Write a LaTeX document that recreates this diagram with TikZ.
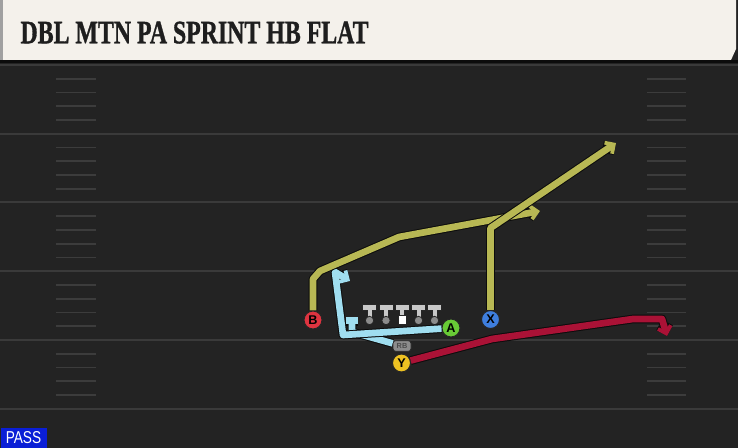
\documentclass[tikz,border=0pt]{standalone}
\usepackage{fontspec}
\setsansfont{Liberation Sans}
\newfontfamily\titlefont{Liberation Serif}[FakeBold=1.2]
\usetikzlibrary{arrows.meta}

\definecolor{fieldbg}{RGB}{35,35,35}
\definecolor{yardgray}{RGB}{58,58,58}
\definecolor{hashgray}{RGB}{60,60,60}
\definecolor{headcream}{RGB}{244,241,235}
\definecolor{headedge}{RGB}{160,160,160}
\definecolor{titleink}{RGB}{30,30,30}
\definecolor{routeolive}{RGB}{184,184,84}
\definecolor{routered}{RGB}{170,18,54}
\definecolor{routecyan}{RGB}{160,222,240}
\definecolor{routeedge}{RGB}{12,12,12}
\definecolor{passblue}{RGB}{10,30,214}
\definecolor{plred}{RGB}{222,52,64}
\definecolor{plblue}{RGB}{62,126,222}
\definecolor{plgreen}{RGB}{104,202,54}
\definecolor{plyellow}{RGB}{238,194,34}
\definecolor{linegray}{RGB}{200,200,200}
\definecolor{jointgray}{RGB}{140,140,140}

\tikzset{every picture/.style={line width=0.75pt}}
\tikzset{
  yard/.style={draw=yardgray, line width=1.5pt},
  hashmark/.style={draw=hashgray, line width=1.2pt},
  routeline/.style={line join=round},
  routetip/.style={-{Straight Barb[length=5pt,width=10pt,line width=#1]}},
  blocktip/.style={-{Bar[width=9pt]}},
  player/.style={circle, draw=black!85, line width=0.75pt, inner sep=0pt, minimum size=13.5pt,
    font=\sffamily\bfseries\fontsize{9.5}{9.5}\selectfont, text=black},
  lineman/.style={fill=linegray, draw=black!85, line width=0.6pt},
  rbtag/.style={rounded corners=2pt, fill=jointgray, draw=black!85, line width=0.6pt, inner sep=0pt,
    minimum width=13.5pt, minimum height=8pt, font=\sffamily\bfseries\fontsize{5.5}{5.5}\selectfont, text=black!70}
}

\begin{document}
\begin{tikzpicture}[x=0.75pt,y=0.75pt,yscale=-1,xscale=1]
\useasboundingbox (0,0) rectangle (738,448);

%Shape: Field
\fill[fieldbg] (0,0) rectangle (738,448);
%Shape: Header
\fill[headcream] (0,0) -- (736,0) -- (736,49) -- (731,60) -- (0,60) -- cycle;
\fill[headedge] (0,0) rectangle (3,60);
\fill[routeedge] (0,60) rectangle (738,63.5);

%Straight Lines: yard lines
\foreach \k in {0,...,5}{
  \pgfmathsetmacro\yy{65+68.75*\k}
  \draw[yard] (0,\yy) -- (738,\yy);
}
%Straight Lines: hash marks
\foreach \k in {0,...,4}{
  \foreach \j in {1,...,4}{
    \pgfmathsetmacro\hy{65+68.75*\k+13.75*\j}
    \draw[hashmark] (56,\hy) -- (96,\hy);
    \draw[hashmark] (647,\hy) -- (686,\hy);
  }
}

%Shape: linemen
\foreach \lx in {369.5,386,402,418.5,434.5}{
  \draw[lineman] (\lx-7,304.5) -- (\lx+7,304.5) -- (\lx+7,310) -- (\lx+2.5,310) -- (\lx+2.5,317.5)
    -- (\lx-2.5,317.5) -- (\lx-2.5,310) -- (\lx-7,310) -- cycle;
}
\foreach \lx in {369.5,386,418.5,434.5}{
  \draw[fill=jointgray, draw=black!85, line width=0.6pt] (\lx,320.5) circle (4.2);
}
\draw[fill=white, draw=black!85, line width=0.6pt] (398,315) rectangle (406,324);

% Player Nodes
\node[player, fill=plred] (B) at (313,320) {B};
\node[player, fill=plblue] (X) at (490.5,319.5) {X};
\node[player, fill=plgreen] (A) at (451,328) {A};
\node[player, fill=plyellow] (Y) at (401.5,363) {Y};
\node[rbtag] (rb) at (402,346) {RB};

%Straight Lines: routes (dark edge first, colour on top)
\foreach \lw/\col in {6.5pt/routeedge,5pt/routecyan}{
  \draw[routeline, line width=\lw, draw=\col, blocktip] (rb) -- (352,332) -- (352,317.5);
}
\foreach \lw/\col/\tw in {6.5pt/routeedge/4.2pt,5pt/routecyan/2.8pt}{
  \draw[routeline, line width=\lw, draw=\col, routetip=\tw] (A) -- (343,335) -- (335,272) -- (350,281);
}
\foreach \lw/\col/\tw in {6.5pt/routeedge/4.2pt,5pt/routeolive/2.8pt}{
  \draw[routeline, line width=\lw, draw=\col, routetip=\tw] (B) -- (313,279) -- (320,271) -- (399,237) -- (540,211);
}
\foreach \lw/\col/\tw in {6.5pt/routeedge/4.2pt,5pt/routeolive/2.8pt}{
  \draw[routeline, line width=\lw, draw=\col, routetip=\tw] (X) -- (490.5,228) -- (616,143);
}
\foreach \lw/\col/\tw in {6.5pt/routeedge/4.2pt,5pt/routered/2.8pt}{
  \draw[routeline, line width=\lw, draw=\col, routetip=\tw] (Y) -- (492,339) -- (633,319) -- (662,319) -- (667,336);
}

% Text Node
\node[anchor=base west, inner sep=0pt, text=titleink] (title) at (20,43.3)
  {\resizebox{261pt}{16.25pt}{\titlefont\bfseries DBL MTN PA SPRINT HB FLAT}};
% Text Node
\node[anchor=south west, fill=passblue, minimum width=34.5pt, minimum height=15pt, inner sep=0pt, text=white] (pass) at (0,448)
  {\resizebox{26.6pt}{9pt}{\sffamily PASS}};

\end{tikzpicture}
\end{document}
